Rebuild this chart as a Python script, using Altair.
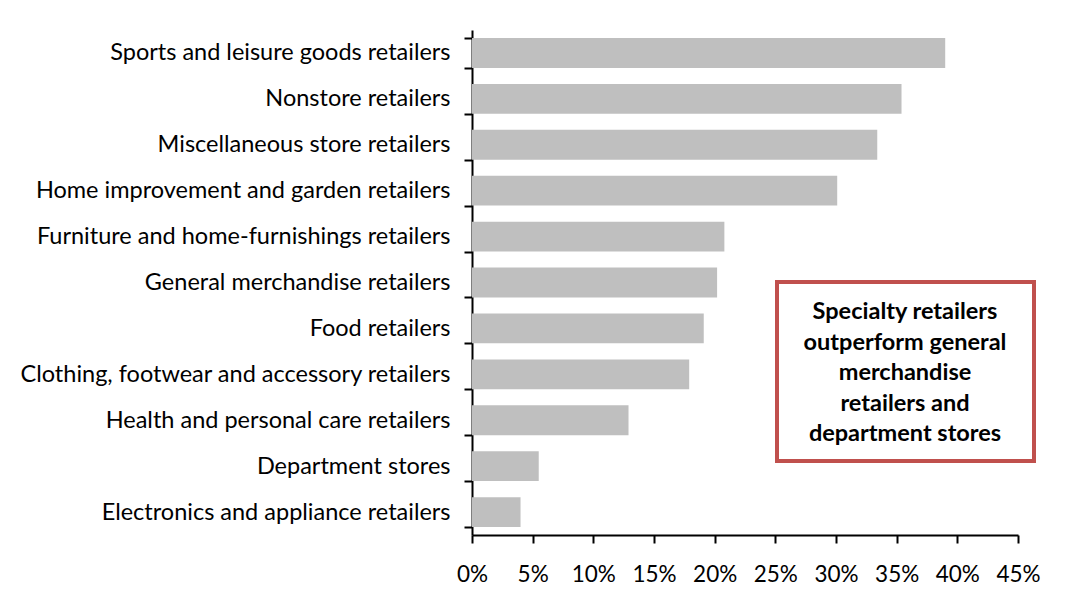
import altair as alt
import pandas as pd

categories = [
    "Sports and leisure goods retailers",
    "Nonstore retailers",
    "Miscellaneous store retailers",
    "Home improvement and garden retailers",
    "Furniture and home-furnishings retailers",
    "General merchandise retailers\u2002",
    "Food retailers",
    "Clothing, footwear and accessory retailers",
    "Health and personal care retailers",
    "Department stores",
    "Electronics and appliance retailers",
]
values = [39.0, 35.4, 33.4, 30.1, 20.8, 20.2, 19.1, 17.9, 12.9, 5.5, 4.0]
x_ticks = [0, 5, 10, 15, 20, 25, 30, 35, 40, 45]
note = "Specialty retailers\noutperform general\nmerchandise\nretailers and\ndepartment stores"

df = pd.DataFrame({"category": categories, "value": values})

FONT = "Lato"
W, H = 546, 505

bars = alt.Chart(df).mark_bar(color="#BFBFBF").encode(
    x=alt.X("value:Q",
            scale=alt.Scale(domain=[0, 45], nice=False, zero=True),
            axis=alt.Axis(values=x_ticks, labelExpr="datum.value + '%'", title=None,
                          grid=False, domainColor="black", domainWidth=2,
                          tickColor="black", tickWidth=2, tickSize=8,
                          labelFont=FONT, labelFontSize=22.5, labelColor="black",
                          labelFlush=False, labelOverlap=False,
                          labelPadding=20)),
    y=alt.Y("category:N", sort=categories,
            scale=alt.Scale(paddingInner=0.35, paddingOuter=0.175),
            axis=alt.Axis(title=None, domainColor="black", domainWidth=2,
                          tickColor="black", tickWidth=2, tickSize=8, tickBand="extent",
                          labelFont=FONT, labelFontSize=23.5, labelColor="black",
                          labelLimit=1000, labelPadding=14)),
)

box = alt.Chart(pd.DataFrame({"t": [note]})).mark_rect(
    fill="white", stroke="#C0504D", strokeWidth=4, clip=False
).encode(
    x=alt.value(305), x2=alt.value(562), y=alt.value(252), y2=alt.value(431)
)

txt = alt.Chart(pd.DataFrame({"t": [note]})).mark_text(
    font=FONT, fontSize=23.5, fontWeight="bold", color="black",
    align="center", baseline="middle", lineBreak="\n", lineHeight=30.5
).encode(
    x=alt.value(433), y=alt.value(282), text="t:N"
)

chart = alt.layer(bars, box, txt).properties(
    width=W, height=H,
    padding={"left": 472, "top": 30, "right": 72, "bottom": 73},
    autosize=alt.AutoSizeParams(type="none"),
    background="white",
).configure_view(stroke=None)

chart.save("out.html", embed_options={"renderer": "svg", "actions": False})
